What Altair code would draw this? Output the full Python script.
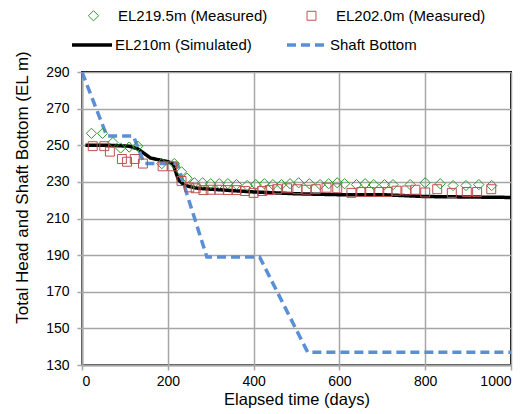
import altair as alt
import pandas as pd

# ---- data ----
green_days = [22, 48, 72, 90, 110, 130, 186, 215, 232, 245, 262, 281, 300, 320, 340,
              360, 385, 405, 425, 445, 465, 485, 505, 530, 555, 575, 595, 612, 640,
              660, 680, 705, 725, 765, 800, 835, 865, 895, 925, 955]
green_vals = [256.5, 256.5, 251.5, 248.5, 249, 249.5, 240, 240, 235.5, 232, 229.5, 229.5,
              229, 229, 229, 228.5, 228, 228.5, 229, 228.5, 228.5, 229, 229.5, 229,
              228.5, 229, 229.5, 229, 228.5, 229, 228.5, 228.5, 228.5, 228.5, 229.5,
              229, 228, 228, 228.5, 228]

red_days = [25, 52, 65, 93, 105, 123, 142, 188, 210, 232, 250, 265, 283, 300, 320, 340,
            360, 380, 400, 420, 437, 455, 478, 502, 523, 545, 570, 595, 628, 651, 670,
            693, 712, 733, 756, 777, 800, 828, 862, 897, 921, 954]
red_vals = [249.5, 249.5, 246.5, 242.5, 241, 242.5, 240, 238.5, 238.5, 230.5, 227, 226.5,
            225.5, 225.7, 225.7, 225.5, 225.5, 225, 224, 225, 225.5, 226, 226.5, 226,
            225.7, 226, 226.8, 226.5, 224, 224.5, 224.5, 224.5, 224.5, 225.2, 225.3,
            225.7, 224.2, 226, 224, 224.5, 224.5, 226]

sim_days = [8, 60, 110, 130, 160, 200, 212, 225, 240, 270, 300, 400, 500, 600, 700, 750, 800, 1000]
sim_vals = [250, 250, 249.5, 248, 243, 241, 240, 231, 228, 226.5, 226, 224.5, 223.5, 223, 223, 222.5, 222, 221.5]

shaft_days = [0, 58, 120, 145, 222, 291, 414, 526, 1000]
shaft_vals = [290, 255, 255, 240, 240, 189, 189, 137, 137]

point_names = ["EL219.5m (Measured)", "EL202.0m (Measured)"]
point_colors = ["#2b9a2b", "#c0504d"]
point_shapes = ["diamond", "square"]
point_sizes = [105, 80]
line_names = ["EL210m (Simulated)", "Shaft Bottom"]
line_colors = ["#000000", "#5a8fd6"]
line_dash = [[1, 0], [9, 5]]

rows = []
for name, d, v in [(point_names[0], green_days, green_vals),
                   (point_names[1], red_days, red_vals),
                   (line_names[0], sim_days, sim_vals),
                   (line_names[1], shaft_days, shaft_vals)]:
    for i, (a, b) in enumerate(zip(d, v)):
        rows.append({"series": name, "day": a, "value": b, "order": i})
df = pd.DataFrame(rows)

FONT = "Liberation Sans"

x = alt.X("day:Q", title="Elapsed time (days)",
          scale=alt.Scale(domain=[0, 1000], nice=False),
          axis=alt.Axis(values=[0, 200, 400, 600, 800, 1000], format="d"))
y = alt.Y("value:Q", title="Total Head and Shaft Bottom (EL m)",
          scale=alt.Scale(domain=[130, 290], nice=False, zero=False),
          axis=alt.Axis(values=list(range(130, 291, 20)), titleY=115, titleFontSize=17))

pt_legend = alt.Legend(
    title=None, orient="none", legendX=4, legendY=-64, columns=2, direction="horizontal",
    columnPadding=36, labelFont=FONT, labelFontSize=15, labelColor="#000000",
    labelOffset=17, symbolSize=81, symbolStrokeWidth=1,
)
ln_legend = alt.Legend(
    title=None, orient="none", legendX=-12, legendY=-49, columns=2, direction="horizontal",
    columnPadding=28, labelFont=FONT, labelFontSize=15, labelColor="#000000",
    labelOffset=1, symbolSize=1600, symbolStrokeWidth=3.5, symbolType="stroke",
)

base = alt.Chart(df)

lines = base.mark_line(clip=True, strokeWidth=3.5).encode(
    x=x, y=y,
    stroke=alt.Stroke("series:N", scale=alt.Scale(domain=line_names, range=line_colors), legend=ln_legend),
    strokeDash=alt.StrokeDash("series:N", scale=alt.Scale(domain=line_names, range=line_dash), legend=ln_legend),
    order="order:Q",
).transform_filter(alt.FieldOneOfPredicate(field="series", oneOf=line_names))

points = base.mark_point(filled=False, opacity=1, strokeWidth=1).encode(
    x=x, y=y,
    color=alt.Color("series:N", scale=alt.Scale(domain=point_names, range=point_colors), legend=pt_legend),
    shape=alt.Shape("series:N", scale=alt.Scale(domain=point_names, range=point_shapes), legend=pt_legend),
    size=alt.Size("series:N", scale=alt.Scale(domain=point_names, range=point_sizes), legend=None),
).transform_filter(alt.FieldOneOfPredicate(field="series", oneOf=point_names))

chart = alt.layer(lines, points).properties(
    width=429, height=293,
    padding={"left": 82, "top": 72, "right": 21, "bottom": 49},
    autosize="none",
).configure_view(
    stroke="#000000", strokeWidth=2
).configure_axis(
    labelFont=FONT, labelFontSize=14, labelColor="#000000",
    titleFont=FONT, titleFontSize=16.5, titleColor="#000000", titleFontWeight="normal",
    gridColor="#a6a6a6", gridWidth=1.5, gridOpacity=1,
    domainColor="#a6a6a6", domainWidth=2,
    tickColor="#a6a6a6", tickWidth=1.5, tickSize=5,
).configure_axisX(
    labelPadding=4, titlePadding=3
).configure_axisY(
    labelPadding=8, titlePadding=14
)

chart.save("out.html", embed_options={"renderer": "svg", "actions": False})
